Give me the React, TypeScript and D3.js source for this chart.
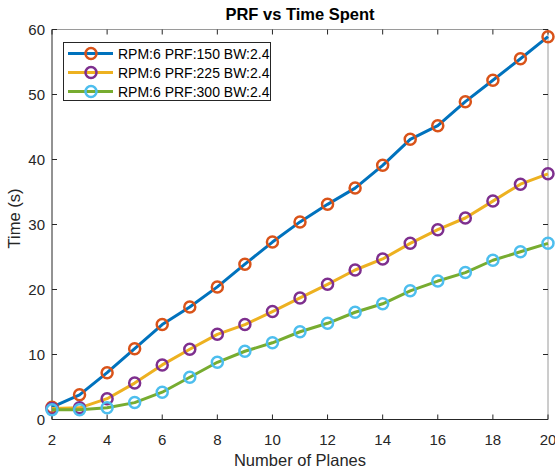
import React, { useRef, useEffect } from "react";
import { select, scaleLinear, line, range } from "d3";

const planes = range(2, 21);
const prf150 = [1.9, 3.8, 7.2, 10.9, 14.6, 17.3, 20.4, 23.9, 27.3, 30.4, 33.1, 35.6, 39.1, 43.1, 45.2, 48.9, 52.2, 55.5, 58.9];
const prf225 = [1.7, 1.8, 3.2, 5.6, 8.4, 10.8, 13.1, 14.6, 16.6, 18.7, 20.8, 23.0, 24.7, 27.1, 29.2, 31.0, 33.6, 36.2, 37.8];
const prf300 = [1.5, 1.5, 1.8, 2.6, 4.2, 6.5, 8.8, 10.5, 11.8, 13.5, 14.8, 16.5, 17.8, 19.8, 21.3, 22.6, 24.5, 25.8, 27.1];
const seriesNames = ["RPM:6 PRF:150 BW:2.4", "RPM:6 PRF:225 BW:2.4", "RPM:6 PRF:300 BW:2.4"];
const xTicks = [2, 4, 6, 8, 10, 12, 14, 16, 18, 20];
const yTicks = [0, 10, 20, 30, 40, 50, 60];

const lineColors = ["#0072BD", "#EDB120", "#77AC30"];
const markerColors = ["#D95319", "#7E2F8E", "#4DBEEE"];

function App() {
  const svgRef = useRef<SVGSVGElement>(null);

  useEffect(() => {
    const svg = select(svgRef.current);
    svg.selectAll("*").remove();
    const left = 52, right = 548, top = 29.5, bottom = 419.5;
    const x = scaleLinear().domain([2, 20]).range([left, right]);
    const y = scaleLinear().domain([0, 60]).range([bottom, top]);
    const font = "Liberation Sans, Arial, sans-serif";
    const axisCol = "#262626";

    svg.append("rect").attr("x", left).attr("y", top).attr("width", right - left).attr("height", bottom - top).attr("fill", "white");

    // box: top & right lighter
    svg.append("line").attr("x1", left).attr("x2", right).attr("y1", top).attr("y2", top).attr("stroke", "#9a9a9a");
    svg.append("line").attr("x1", right).attr("x2", right).attr("y1", top).attr("y2", bottom).attr("stroke", "#9a9a9a");
    svg.append("line").attr("x1", left).attr("x2", right).attr("y1", bottom).attr("y2", bottom).attr("stroke", axisCol);
    svg.append("line").attr("x1", left).attr("x2", left).attr("y1", top).attr("y2", bottom).attr("stroke", axisCol);

    const tl = 5;
    xTicks.forEach((t) => {
      svg.append("line").attr("x1", x(t)).attr("x2", x(t)).attr("y1", bottom).attr("y2", bottom - tl).attr("stroke", axisCol);
      svg.append("line").attr("x1", x(t)).attr("x2", x(t)).attr("y1", top).attr("y2", top + tl).attr("stroke", axisCol);
      svg.append("text").attr("x", x(t)).attr("y", bottom + 25).attr("text-anchor", "middle")
        .attr("font-family", font).attr("font-size", 15).attr("fill", axisCol).text(t);
    });
    yTicks.forEach((t) => {
      svg.append("line").attr("x1", left).attr("x2", left + tl).attr("y1", y(t)).attr("y2", y(t)).attr("stroke", axisCol);
      svg.append("line").attr("x1", right).attr("x2", right - tl).attr("y1", y(t)).attr("y2", y(t)).attr("stroke", axisCol);
      svg.append("text").attr("x", left - 7).attr("y", y(t) + 5.5).attr("text-anchor", "end")
        .attr("font-family", font).attr("font-size", 15).attr("fill", axisCol).text(t);
    });

    svg.append("text").attr("x", (left + right) / 2).attr("y", 20).attr("text-anchor", "middle")
      .attr("font-family", font).attr("font-weight", "bold").attr("font-size", 16.5).attr("fill", "#000").text("PRF vs Time Spent");
    svg.append("text").attr("x", (left + right) / 2).attr("y", 466).attr("text-anchor", "middle")
      .attr("font-family", font).attr("font-size", 16.5).attr("fill", axisCol).text("Number of Planes");
    svg.append("text").attr("transform", `translate(20,${(top + bottom) / 2 - 6}) rotate(-90)`).attr("text-anchor", "middle")
      .attr("font-family", font).attr("font-size", 16.5).attr("fill", axisCol).text("Time (s)");

    const all = [prf150, prf225, prf300];
    const gen = line<number>().x((d, i) => x(planes[i])).y((d) => y(d));
    all.forEach((vals, s) => {
      svg.append("path").attr("d", gen(vals)).attr("fill", "none").attr("stroke", lineColors[s]).attr("stroke-width", 3).attr("stroke-linejoin", "round");
      svg.selectAll(`.m${s}`).data(vals).join("circle").attr("class", `m${s}`)
        .attr("cx", (d, i) => x(planes[i])).attr("cy", (d) => y(d)).attr("r", 5.5)
        .attr("fill", "none").attr("stroke", markerColors[s]).attr("stroke-width", 2.5);
    });

    // legend
    const lg = svg.append("g");
    lg.append("rect").attr("x", 63.5).attr("y", 42.5).attr("width", 207).attr("height", 58).attr("fill", "white").attr("stroke", axisCol).attr("stroke-width", 1);
    seriesNames.forEach((name, s) => {
      const cy = 53.5 + s * 19;
      lg.append("line").attr("x1", 68).attr("x2", 113).attr("y1", cy).attr("y2", cy).attr("stroke", lineColors[s]).attr("stroke-width", 3);
      lg.append("circle").attr("cx", 91).attr("cy", cy).attr("r", 5.5).attr("fill", "none").attr("stroke", markerColors[s]).attr("stroke-width", 2.5);
      lg.append("text").attr("x", 118).attr("y", cy + 5).attr("font-family", font).attr("font-size", 14)
        .attr("fill", "#000").text(name);
    });
  }, []);

  return (
    <svg ref={svgRef} width={555} height={469} style={{ position: "absolute", left: 0, top: 0, background: "white" }} />
  );
}

export default App;
